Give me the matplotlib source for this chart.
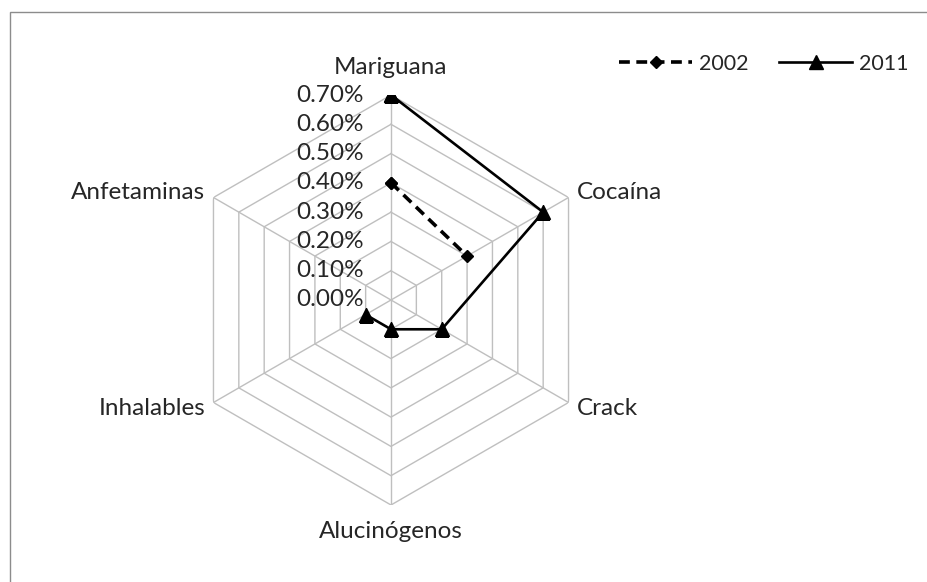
import numpy as np
import matplotlib
matplotlib.use("Agg")
import matplotlib.pyplot as plt
from matplotlib.patches import Rectangle

# Consumption prevalence by substance (percent)
categories = ["Mariguana", "Cocaína", "Crack", "Alucinógenos", "Inhalables", "Anfetaminas"]
values_2002 = [0.40, 0.30, np.nan, np.nan, np.nan, np.nan]
values_2011 = [0.70, 0.60, 0.20, 0.10, 0.10, np.nan]
ring_levels = [0.00, 0.10, 0.20, 0.30, 0.40, 0.50, 0.60, 0.70]
ring_labels = ["0.00%", "0.10%", "0.20%", "0.30%", "0.40%", "0.50%", "0.60%", "0.70%"]
series_names = ["2002", "2011"]

plt.rcParams["font.family"] = ["Lato", "DejaVu Sans"]
TXT = "#262626"
GRID = "#bfbfbf"
FS = 17.5
FS_LEG = 15.5

W, H = 927, 582
fig = plt.figure(figsize=(W / 100, H / 100), dpi=100)

# outer chart frame (right and bottom edges run off the canvas)
fig.patches.append(Rectangle((10 / W, -0.05), 1.2, 1 - 12 / H + 0.05,
                             transform=fig.transFigure, fill=False,
                             edgecolor="#8c8c8c", lw=1.0))

cx, cy, R = 391, 300, 205
ax = fig.add_axes([(cx - R) / W, (H - cy - R) / H, 2 * R / W, 2 * R / H],
                  projection="polar")
ax.set_theta_zero_location("N")
ax.set_theta_direction(-1)
ax.set_ylim(0, ring_levels[-1])
ax.grid(False)
ax.spines["polar"].set_visible(False)
ax.set_xticks([])
ax.set_yticks([])
ax.patch.set_alpha(0)

n = len(categories)
theta = np.arange(n) * 2 * np.pi / n
theta_closed = np.append(theta, theta[0])

# hexagonal rings and spokes
for lvl in ring_levels[1:]:
    ax.plot(theta_closed, [lvl] * (n + 1), color=GRID, lw=1.0, zorder=1)
for t in theta:
    ax.plot([t, t], [0, ring_levels[-1]], color=GRID, lw=1.0, zorder=1)

# value axis labels along the first spoke
for lvl, lab in zip(ring_levels, ring_labels):
    ax.annotate(lab, xy=(0, lvl), xytext=(-27, 0), textcoords="offset pixels",
                ha="right", va="center", fontsize=FS, color=TXT, zorder=2)

# category labels at the outer vertices
offsets = [((0, 28), "center"), ((8, 5), "left"), ((8, -6), "left"),
           ((0, -26), "center"), ((-8, -6), "right"), ((-8, 5), "right")]
for t, cat, (off, ha) in zip(theta, categories, offsets):
    ax.annotate(cat, xy=(t, ring_levels[-1]), xytext=off, textcoords="offset pixels",
                ha=ha, va="center", fontsize=FS, color=TXT)

def closed(v):
    return np.append(v, v[0])

l02, = ax.plot(theta_closed, closed(values_2002), color="black", lw=2.6,
               dashes=(3.0, 1.8), marker="D", markersize=6.5, zorder=4,
               label=series_names[0])
l11, = ax.plot(theta_closed, closed(values_2011), color="black", lw=1.9,
               marker="^", markersize=9.5, zorder=5, label=series_names[1])

fig.legend(handles=[l02, l11], labels=series_names, loc="center left",
           bbox_to_anchor=(619 / W, 1 - 64 / H), ncol=2, frameon=False,
           fontsize=FS_LEG, handlelength=3.4, handletextpad=0.33,
           columnspacing=1.4, borderpad=0, borderaxespad=0,
           labelcolor=TXT)

fig.savefig("out.png", dpi=100)
